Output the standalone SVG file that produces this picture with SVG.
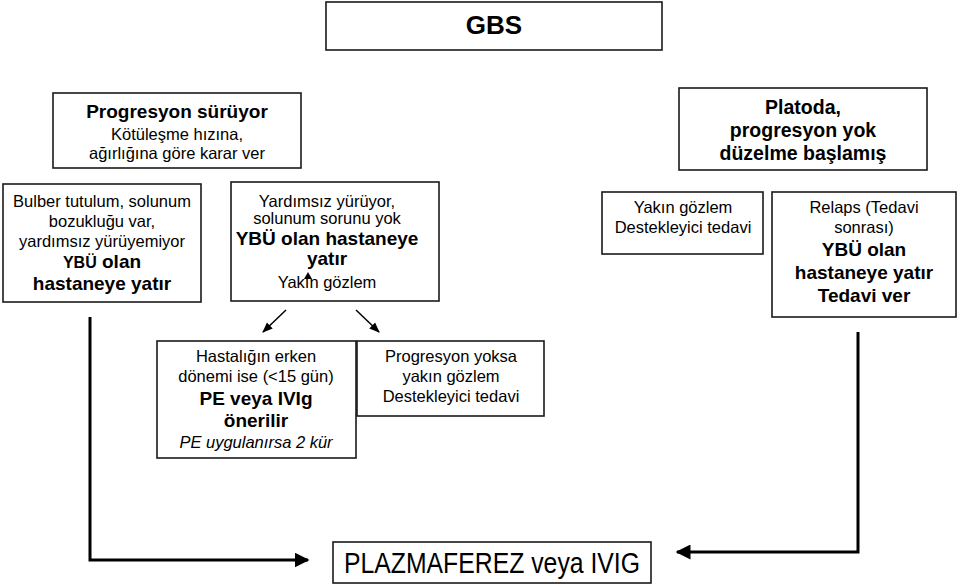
<svg xmlns="http://www.w3.org/2000/svg" width="960" height="586" viewBox="0 0 960 586">
<defs>
<style>
.box{fill:#fff;stroke:#1a1a1a;stroke-width:1.6}
text{font-family:"Liberation Sans",Arial,sans-serif;fill:#000;text-anchor:middle}
.r{font-size:16.5px}
.b{font-size:19px;font-weight:bold}
.i{font-size:16.5px;font-style:italic}
.conn{fill:none;stroke:#000}
</style>
<marker id="ah" viewBox="0 0 10 10" refX="9" refY="5" markerWidth="5" markerHeight="5" orient="auto" markerUnits="strokeWidth">
<path d="M0,0 L10,5 L0,10 z" fill="#000"/>
</marker>
<marker id="ahs" viewBox="0 0 10 10" refX="9" refY="5" markerWidth="7" markerHeight="7" orient="auto" markerUnits="strokeWidth">
<path d="M0,1 L10,5 L0,9 z" fill="#000"/>
</marker>
</defs>
<rect width="960" height="586" fill="#fff"/>

<g id="gbs">
<rect class="box" x="326" y="2" width="336" height="48"/>
<text x="494" y="34" style="font-size:26px;font-weight:bold">GBS</text>
</g>

<g id="progresyon">
<rect class="box" x="53" y="93" width="248" height="75"/>
<text x="177" y="118" class="b">Progresyon sürüyor</text>
<text x="177" y="140" class="r">Kötüleşme hızına,</text>
<text x="177" y="159" class="r">ağırlığına göre karar ver</text>
</g>

<g id="platoda">
<rect class="box" x="679" y="88" width="248" height="82"/>
<text x="803" y="114" style="font-size:19.5px;font-weight:bold">Platoda,</text>
<text x="803" y="137" style="font-size:19.5px;font-weight:bold">progresyon yok</text>
<text x="803" y="160" style="font-size:19.5px;font-weight:bold">düzelme başlamış</text>
</g>

<g id="bulber">
<rect class="box" x="3" y="184" width="198" height="118"/>
<text x="102" y="207" class="r">Bulber tutulum, solunum</text>
<text x="102" y="227" class="r">bozukluğu var,</text>
<text x="102" y="247" class="r">yardımsız yürüyemiyor</text>
<text x="102" y="268" class="b"><tspan style="font-size:16px">YBÜ</tspan> olan</text>
<text x="102" y="290" class="b">hastaneye yatır</text>
</g>

<g id="yardimsiz">
<rect class="box" x="231" y="182" width="208" height="119"/>
<text x="327" y="207" class="r">Yardımsız yürüyor,</text>
<text x="327" y="224" class="r">solunum sorunu yok</text>
<text x="327" y="245" class="b">YBÜ olan hastaneye</text>
<text x="327" y="265" class="b">yatır</text>
<text x="327" y="288" class="r">Yakın gözlem</text>
<polygon points="308,272 304,279 312,279" fill="#000"/>
</g>

<g id="yakin">
<rect class="box" x="602" y="192" width="161" height="62"/>
<text x="683" y="213" class="r">Yakın gözlem</text>
<text x="683" y="233" class="r">Destekleyici tedavi</text>
</g>

<g id="relaps">
<rect class="box" x="772" y="192" width="184" height="125"/>
<text x="864" y="213" class="r">Relaps (Tedavi</text>
<text x="864" y="233" class="r">sonrası)</text>
<text x="864" y="256" class="b">YBÜ olan</text>
<text x="864" y="279" class="b">hastaneye yatır</text>
<text x="864" y="302" class="b">Tedavi ver</text>
</g>

<g id="hastaligin">
<rect class="box" x="157" y="341" width="199" height="117"/>
<text x="256" y="362" class="r">Hastalığın erken</text>
<text x="256" y="382" class="r">dönemi ise (&lt;15 gün)</text>
<text x="256" y="405" class="b">PE veya IVIg</text>
<text x="256" y="427" class="b">önerilir</text>
<text x="256" y="448" class="i">PE uygulanırsa 2 kür</text>
</g>

<g id="yoksa">
<rect class="box" x="357" y="341" width="187" height="75"/>
<text x="451" y="362" class="r">Progresyon yoksa</text>
<text x="451" y="382" class="r">yakın gözlem</text>
<text x="451" y="402" class="r">Destekleyici tedavi</text>
</g>

<g id="plazmaferez">
<rect class="box" x="333" y="542" width="318" height="41"/>
<text x="492" y="573" style="font-size:29px" textLength="296" lengthAdjust="spacingAndGlyphs">PLAZMAFEREZ veya IVIG</text>
</g>

<g id="connectors">
<line class="conn" x1="286" y1="310" x2="263" y2="332" stroke-width="1.5" marker-end="url(#ahs)"/>
<line class="conn" x1="356" y1="310" x2="379" y2="332" stroke-width="1.5" marker-end="url(#ahs)"/>
<polyline class="conn" points="90,317 90,560 308,560" stroke-width="3" marker-end="url(#ah)"/>
<polyline class="conn" points="858,332 858,552 677,552" stroke-width="3" marker-end="url(#ah)"/>
</g>
</svg>
